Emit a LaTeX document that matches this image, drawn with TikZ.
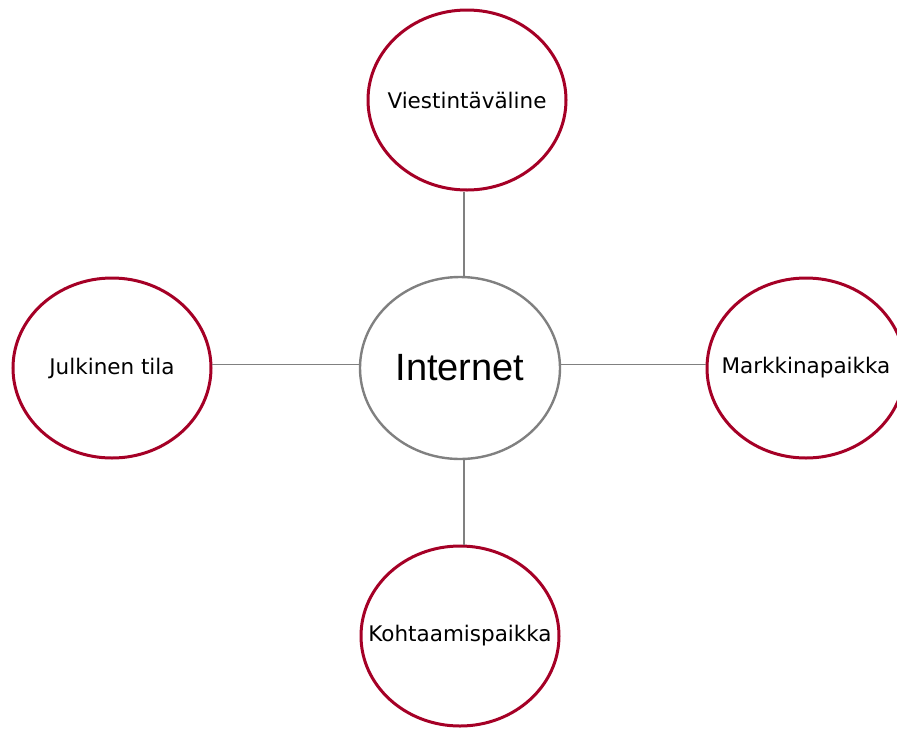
\documentclass[tikz,border=0pt]{standalone}
\usepackage{fontspec}
\setmainfont{DejaVu Sans}
\newfontfamily\arialfont{Liberation Sans}
\usetikzlibrary{shapes.geometric}
\definecolor{ringred}{RGB}{165,0,38}
\definecolor{ringgray}{RGB}{128,128,128}
\tikzset{
  outer/.style={ellipse, draw=ringred, line width=3pt, minimum width=198pt, minimum height=180pt, inner sep=0pt},
  lbl/.style={font=\fontsize{21.5}{26}\selectfont, inner sep=0pt},
  hub/.style={ellipse, draw=ringgray, line width=2.4pt, minimum width=200pt, minimum height=182pt, inner sep=0pt},
  hublbl/.style={font=\arialfont\fontsize{38}{44}\selectfont, inner sep=0pt},
  link/.style={draw=ringgray, line width=1.3pt}
}
\begin{document}
\begin{tikzpicture}[x=1pt,y=-1pt]
\useasboundingbox (0,0) rectangle (897,729);
\clip (0,0) rectangle (897,729);
\node[hub, label={[hublbl]center:Internet}] (c) at (460,368) {};
\node[outer, label={[lbl]center:Viestintäväline}] (t) at (467,100) {};
\node[outer, label={[lbl]center:Julkinen tila}] (l) at (112,368) {};
\node[outer, label={[lbl]center:Markkinapaikka}] (r) at (806,368) {};
\node[outer, label={[lbl]center:Kohtaamispaikka}] (b) at (460,636) {};
\coordinate (vx) at (464,0);
\draw[link] (t.south -| vx) -- (c.north -| vx);
\draw[link] (c.south -| vx) -- (b.north -| vx);
\draw[link] (l.2.3) -- (l.2.3 -| c.west);
\draw[link] (c.east |- l.2.3) -- (r.west |- l.2.3);
\end{tikzpicture}
\end{document}
